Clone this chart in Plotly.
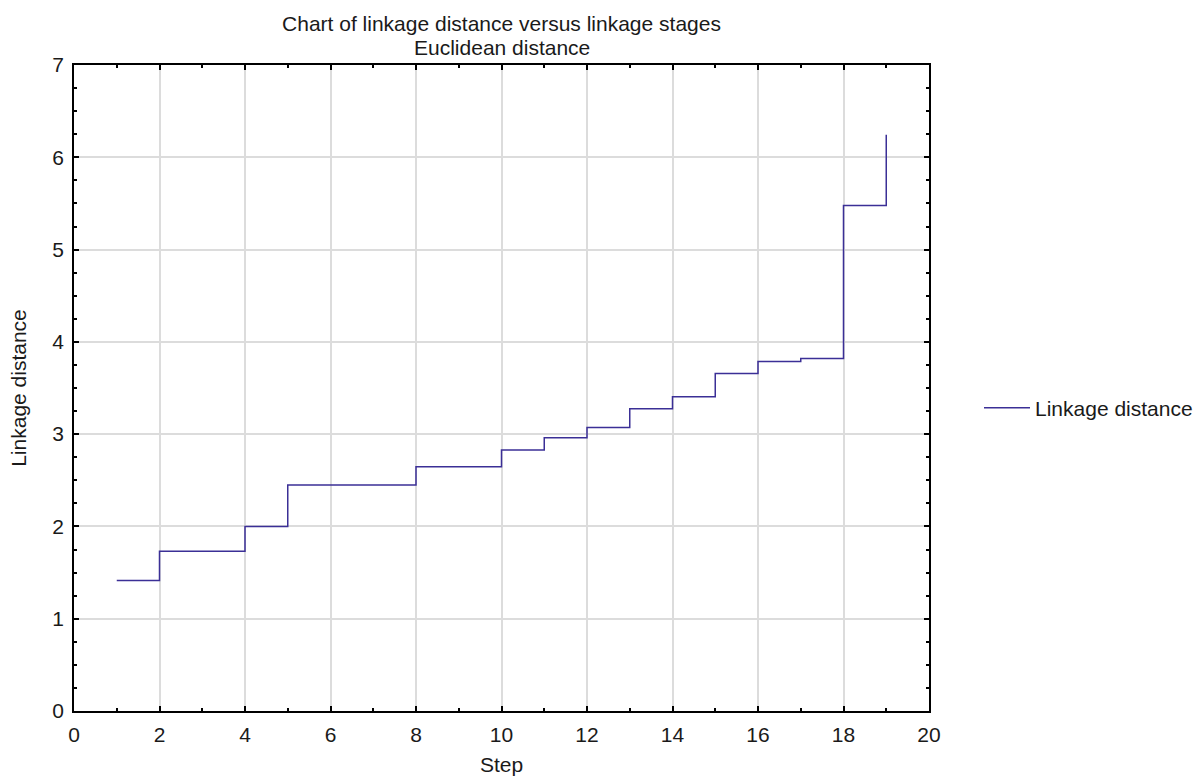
import plotly.graph_objects as go

steps = list(range(1, 20))
linkage_distance = [1.414, 1.732, 1.732, 2.0, 2.449, 2.449, 2.449, 2.646, 2.646,
                    2.828, 2.962, 3.072, 3.276, 3.406, 3.657, 3.787, 3.820, 5.477, 6.245]

title_line1 = "Chart of linkage distance versus linkage stages"
title_line2 = "Euclidean distance"
series_name = "Linkage distance"
x_title = "Step"
y_title = "Linkage distance"

FONT = "Liberation Sans, Arial, sans-serif"
TXT = "#1a1a1a"

fig = go.Figure()
fig.add_trace(go.Scatter(
    x=steps, y=linkage_distance, mode="lines", name=series_name,
    line=dict(shape="hv", color="#3B2F96", width=1.5),
    showlegend=True,
))

axis_common = dict(
    showline=True, linecolor="#000000", linewidth=1.5, mirror="allticks",
    ticks="inside", ticklen=5, tickwidth=1.5, tickcolor="#000000",
    showgrid=True, gridcolor="#dcdcdc", gridwidth=1.5, zeroline=False,
    tickfont=dict(family=FONT, size=21, color=TXT),
    ticklabelstandoff=4,
)

fig.update_layout(
    width=1199, height=776,
    paper_bgcolor="white", plot_bgcolor="white",
    margin=dict(l=74, r=270, t=65, b=65, autoexpand=False),
    font=dict(family=FONT, size=21, color=TXT),
    title=dict(text=title_line1, x=(74 + 929) / 2 / 1199, xanchor="center",
               y=1 - 24 / 776, yanchor="middle", yref="container",
               font=dict(family=FONT, size=21, color=TXT)),
    showlegend=True,
    legend=dict(xref="container", x=(988 - 9) / 1199, xanchor="left",
                yref="container", y=1 - 408 / 776, yanchor="middle",
                font=dict(family=FONT, size=21, color=TXT),
                itemwidth=46, bgcolor="rgba(0,0,0,0)"),
    xaxis=dict(range=[0, 20], tickmode="linear", tick0=0, dtick=2,
               minor=dict(ticks="inside", ticklen=3, tickwidth=1.5, tickcolor="#000000",
                          dtick=1, tick0=0, showgrid=False),
               title=dict(text=x_title, standoff=16, font=dict(family=FONT, size=21, color=TXT)),
               **axis_common),
    yaxis=dict(range=[0, 7], tickmode="linear", tick0=0, dtick=1,
               minor=dict(ticks="inside", ticklen=3, tickwidth=1.5, tickcolor="#000000",
                          dtick=0.25, tick0=0, showgrid=False),
               title=dict(text=y_title, standoff=20, font=dict(family=FONT, size=21, color=TXT)),
               **axis_common),
    annotations=[dict(text=title_line2, xref="paper", yref="paper", x=0.5, y=(711 - 48) / 646,
                      xanchor="center", yanchor="middle", showarrow=False,
                      font=dict(family=FONT, size=21, color=TXT))],
)

fig.write_html("out.html")
